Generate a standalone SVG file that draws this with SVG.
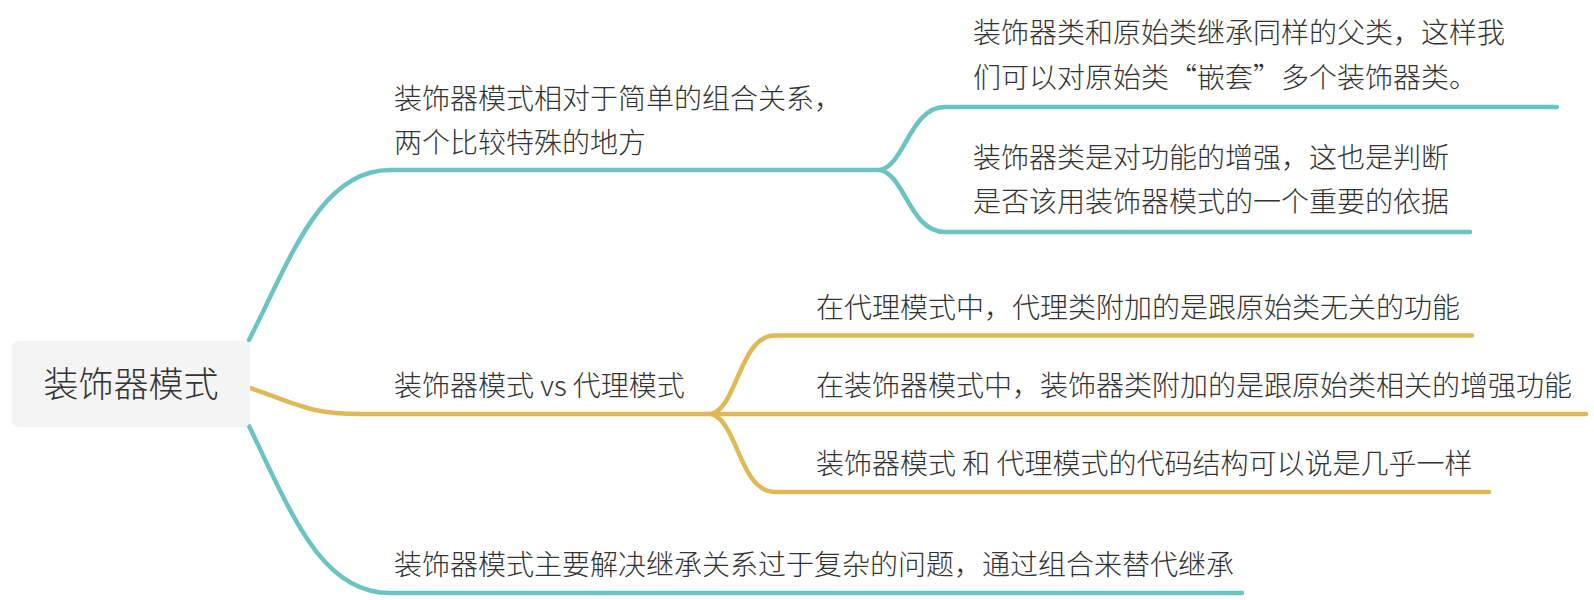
<svg xmlns="http://www.w3.org/2000/svg" width="1594" height="600" viewBox="0 0 1594 600">
<style>
.t{font-family:"Noto Sans CJK SC","Noto Sans",sans-serif;font-size:28px;font-weight:300;fill:#333333}
.root{font-family:"Noto Sans CJK SC","Noto Sans",sans-serif;font-size:35px;font-weight:300;fill:#333333}
.teal{fill:none;stroke:#6cc3c3;stroke-width:4.5;stroke-linecap:round}
.gold{fill:none;stroke:#e1b856;stroke-width:4.5;stroke-linecap:round}
</style>
<rect width="1594" height="600" fill="#ffffff"/>
<g id="connectors">
<path class="teal" d="M249 340 C 290 260, 320 170, 390 170 L 880 170"/>
<path class="teal" d="M880 170 C 905 165, 910 107, 945 107 L 1557 107"/>
<path class="teal" d="M880 170 C 905 175, 910 232, 945 232 L 1470 232"/>
<path class="gold" d="M250 388 C 300 405, 310 414, 360 414 L 1586 414"/>
<path class="gold" d="M712 414 C 738 405, 740 335.5, 775 335.5 L 1472 335.5"/>
<path class="gold" d="M712 414 C 738 423, 740 492, 775 492 L 1489 492"/>
<path class="teal" d="M249 426 C 290 510, 320 593, 390 593 L 1242 593"/>
</g>
<g id="root">
<rect x="12" y="341" width="238" height="86" rx="6" fill="#f4f4f4"/>
<text class="root" x="131" y="397" text-anchor="middle">装饰器模式</text>
</g>
<g id="n1">
<text class="t" x="394" y="109">装饰器模式相对于简单的组合关系，</text>
<text class="t" x="394" y="153">两个比较特殊的地方</text>
</g>
<g id="n1a">
<text class="t" x="973" y="43">装饰器类和原始类继承同样的父类，这样我</text>
<text class="t" x="973" y="88">们可以对原始类“嵌套”多个装饰器类。</text>
</g>
<g id="n1b">
<text class="t" x="973" y="168">装饰器类是对功能的增强，这也是判断</text>
<text class="t" x="973" y="212">是否该用装饰器模式的一个重要的依据</text>
</g>
<g id="n2">
<text class="t" x="394" y="395.5">装饰器模式 vs 代理模式</text>
</g>
<g id="n2a">
<text class="t" x="816" y="317.5">在代理模式中，代理类附加的是跟原始类无关的功能</text>
</g>
<g id="n2b">
<text class="t" x="816" y="395.5">在装饰器模式中，装饰器类附加的是跟原始类相关的增强功能</text>
</g>
<g id="n2c">
<text class="t" x="816" y="474">装饰器模式 和 代理模式的代码结构可以说是几乎一样</text>
</g>
<g id="n3">
<text class="t" x="394" y="574.5">装饰器模式主要解决继承关系过于复杂的问题，通过组合来替代继承</text>
</g>
</svg>
